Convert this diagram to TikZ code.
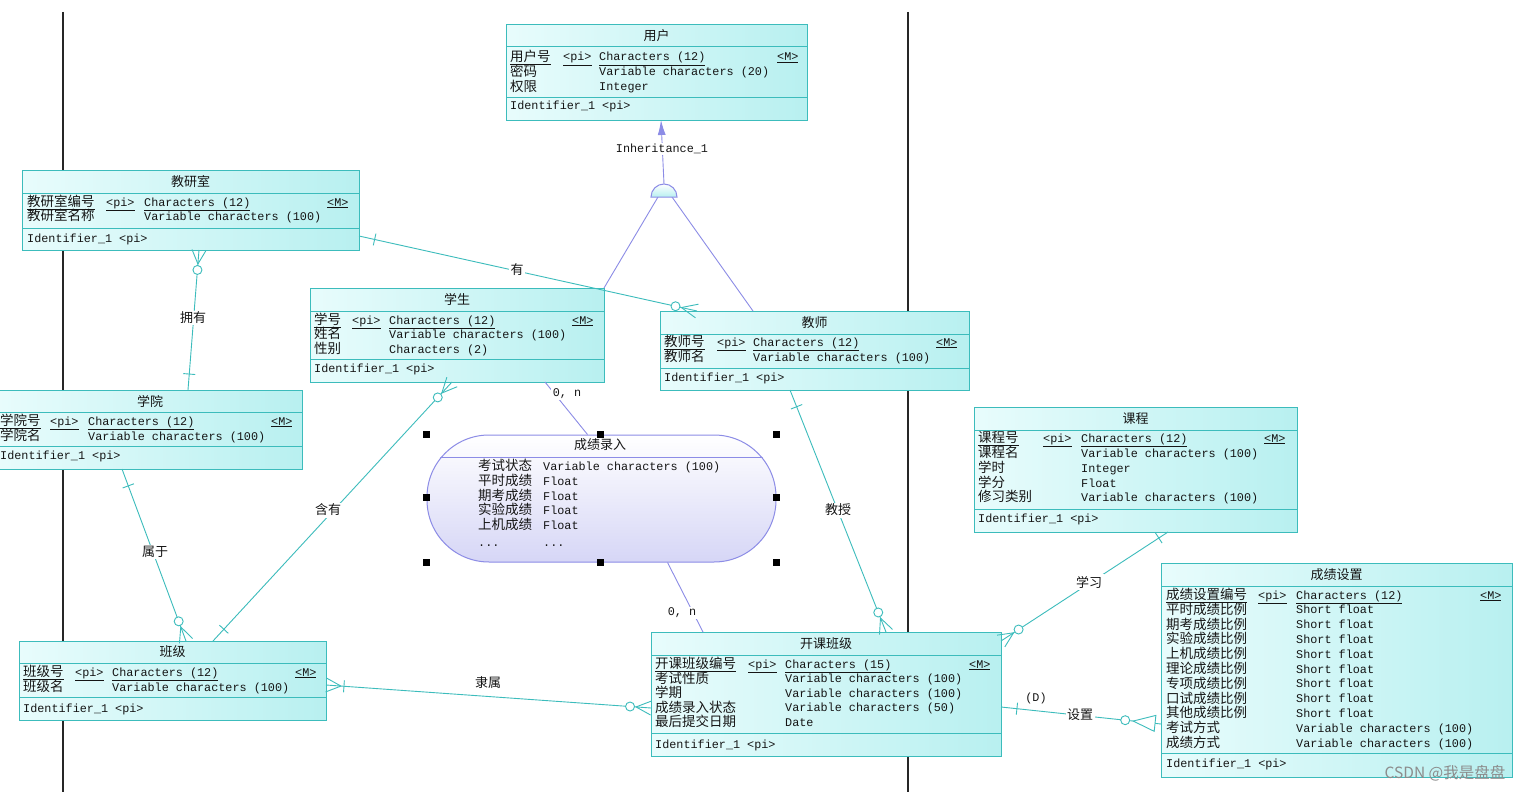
\documentclass[tikz,border=0pt]{standalone}
\usepackage{fontspec}
\setmonofont{Liberation Mono}
\newfontfamily\cjk{Noto Sans CJK SC}
\usetikzlibrary{calc,arrows.meta}
\definecolor{ebd}{HTML}{3CBCBC}
\definecolor{efl}{HTML}{B8F0F0}
\definecolor{efl2}{HTML}{E8FCFC}
\definecolor{pur}{HTML}{8C8CE6}
\definecolor{pfl}{HTML}{D6D6F6}
\definecolor{txt}{HTML}{151515}
\newcounter{nn}
\newcommand\setcols[4]{\def\cn{#1}\def\cp{#2}\def\ct{#3}\def\cm{#4}}
\newcommand\tx[4]{\stepcounter{nn}\node[#1] (t\arabic{nn}) at (#2,#3) {#4};}
\newcommand\keyrow[3]{%
  \tx{cf}{\cn}{#1+4.5}{\underline{#2}}%
  \tx{lf}{\cp}{#1+4}{\underline{<pi>}}%
  \tx{lf}{\ct}{#1+4}{\underline{#3}}%
  \tx{lf}{\cm}{#1+4}{\underline{<M>}}}
\newcommand\arow[3]{\tx{cf}{\cn}{#1+4.5}{#2}\tx{lf}{\ct}{#1+4}{#3}}
\newcommand\idrow[1]{\tx{lf}{\cn}{#1+4}{Identifier\_1 <pi>}}
% id x y w ytitle yattr ybottom title
\newcommand\ent[8]{%
  \node[ebox, minimum width=#4, minimum height={#7-#3}] (#1) at (#2,#3) {};
  \draw[sep] (#2,#5) -- ({#2+#4},#5);
  \draw[sep] (#2,#6) -- ({#2+#4},#6);
  \tx{ttl}{{#2+#4/2}}{{(#3+#5)/2}}{#8}}
\newcommand\erbar[3]{%
  \coordinate (tmpq) at ($(#1)!#3!(#2)$);
  \draw[rel] ($(tmpq)!6pt!90:(#2)$) -- ($(tmpq)!6pt!-90:(#2)$);}
\newcommand\ercrow[3]{%
  \draw[rel] ($(#1)!#3!(#2)$) -- ($(#1)!7pt!90:(#2)$)
             ($(#1)!#3!(#2)$) -- ($(#1)!7pt!-90:(#2)$);}
\newcommand\ercirc[3]{%
  \draw[rel, fill=white] ($(#1)!#3!(#2)$) circle[radius=4.5pt];}
\tikzset{
  ebox/.style={draw=ebd, line width=1pt, left color=efl2, right color=efl, anchor=north west, inner sep=0, outer sep=0},
  sep/.style={draw=ebd, line width=1pt},
  ttl/.style={font=\cjk\fontsize{13}{14}\selectfont, text=txt, inner sep=0},
  lf/.style={font=\ttfamily\fontsize{11.8}{12}\selectfont, text=txt, anchor=base west, inner sep=0},
  cf/.style={font=\cjk\fontsize{13.5}{14}\selectfont, text=txt, anchor=base west, inner sep=0},
  rel/.style={draw=ebd, line width=0.9pt},
  prel/.style={draw=pur, line width=0.9pt},
  rlab/.style={font=\cjk\fontsize{13}{14}\selectfont, fill=white, inner sep=1.5pt, text=txt},
  tlab/.style={font=\ttfamily\fontsize{11.8}{12}\selectfont, fill=white, inner sep=1.5pt, text=txt},
  handle/.style={fill=black, minimum size=7pt, inner sep=0},
  vline/.style={draw=black!85, line width=1.4pt},
}
\begin{document}
\begin{tikzpicture}[x=1pt,y=-1pt]
\useasboundingbox[fill=white] (0,0) rectangle (1529,792);
% vertical lines
\draw[vline] (63,12) -- (63,792);
\draw[vline] (908,12) -- (908,792);

% ---------- entities ----------
\ent{yh}{506}{25}{301}{47}{97}{120}{用户}
\setcols{510}{563}{599}{777}
\keyrow{57}{用户号}{Characters (12)}
\arow{72}{密码}{Variable characters (20)}
\arow{87}{权限}{Integer}
\idrow{106}

\ent{jys}{22}{170}{337}{193}{228}{250}{教研室}
\setcols{27}{106}{144}{327}
\keyrow{202}{教研室编号}{Characters (12)}
\arow{216}{教研室名称}{Variable characters (100)}
\idrow{238}

\ent{xs}{310}{288}{294}{311}{359}{382}{学生}
\setcols{314}{352}{389}{572}
\keyrow{320}{学号}{Characters (12)}
\arow{334}{姓名}{Variable characters (100)}
\arow{349}{性别}{Characters (2)}
\idrow{368}

\ent{js}{660}{311}{309}{334}{368}{390}{教师}
\setcols{664}{717}{753}{936}
\keyrow{342}{教师号}{Characters (12)}
\arow{357}{教师名}{Variable characters (100)}
\idrow{377}

\ent{xy}{-2}{390}{304}{412}{446}{469}{学院}
\setcols{0}{50}{88}{271}
\keyrow{421}{学院号}{Characters (12)}
\arow{436}{学院名}{Variable characters (100)}
\idrow{455}

\ent{kc}{974}{407}{323}{430}{509}{532}{课程}
\setcols{978}{1043}{1081}{1264}
\keyrow{438}{课程号}{Characters (12)}
\arow{453}{课程名}{Variable characters (100)}
\arow{468}{学时}{Integer}
\arow{483}{学分}{Float}
\arow{497}{修习类别}{Variable characters (100)}
\idrow{518}

\ent{cs}{1161}{563}{351}{586}{753}{777}{成绩设置}
\setcols{1166}{1258}{1296}{1480}
\keyrow{595}{成绩设置编号}{Characters (12)}
\arow{609.8}{平时成绩比例}{Short float}
\arow{624.6}{期考成绩比例}{Short float}
\arow{639.4}{实验成绩比例}{Short float}
\arow{654.2}{上机成绩比例}{Short float}
\arow{669}{理论成绩比例}{Short float}
\arow{683.8}{专项成绩比例}{Short float}
\arow{698.6}{口试成绩比例}{Short float}
\arow{713.4}{其他成绩比例}{Short float}
\arow{728.2}{考试方式}{Variable characters (100)}
\arow{743}{成绩方式}{Variable characters (100)}
\idrow{763}

\ent{bj}{19}{641}{307}{663}{697}{720}{班级}
\setcols{23}{75}{112}{295}
\keyrow{672}{班级号}{Characters (12)}
\arow{687}{班级名}{Variable characters (100)}
\idrow{708}

\ent{kb}{651}{632}{350}{655}{733}{756}{开课班级}
\setcols{655}{748}{785}{969}
\keyrow{664}{开课班级编号}{Characters (15)}
\arow{678.6}{考试性质}{Variable characters (100)}
\arow{693.2}{学期}{Variable characters (100)}
\arow{707.8}{成绩录入状态}{Variable characters (50)}
\arow{722.4}{最后提交日期}{Date}
\idrow{744}

% ---------- association 成绩录入 ----------
\node[draw=pur, line width=1pt, rounded corners=62pt, top color=white, bottom color=pfl,
      minimum width=349, minimum height=127, inner sep=0] (lr) at (601.5,498.5) {};
\begin{scope}
  \clip[rounded corners=62pt] (lr.north west) rectangle (lr.south east);
  \draw[prel] ($(lr.north west)+(0,23)$) -- ($(lr.north east)+(0,23)$);
\end{scope}
\tx{ttl}{600}{445}{成绩录入}
\setcols{478}{0}{543}{0}
\arow{466}{考试状态}{Variable characters (100)}
\arow{481}{平时成绩}{Float}
\arow{496}{期考成绩}{Float}
\arow{510}{实验成绩}{Float}
\arow{525}{上机成绩}{Float}
\tx{lf}{478}{546}{...}
\tx{lf}{543}{546}{...}
\foreach \hx/\hy [count=\i] in {426/434,600/434,776/434,426/497,776/497,426/562,600/562,776/562}
  \node[handle] (h\i) at (\hx,\hy) {};

\coordinate (p1a) at ($(xs.south west)+(235,0)$);
\coordinate (p1b) at ($(lr.north west)+(161,0)$);
\draw[prel] (p1a) -- (p1b);
\node[tlab] (l0n1) at (567,394) {0, n};
\coordinate (p2a) at ($(lr.south west)+(241,0)$);
\coordinate (p2b) at ($(kb.north west)+(52,0)$);
\draw[prel] (p2a) -- (p2b);
\node[tlab] (l0n2) at (682,613) {0, n};

% ---------- inheritance ----------
\coordinate (inh) at (664,197);
\coordinate (inhtop) at (664,184);
\coordinate (yhb) at ($(yh.south west)+(155,0)$);
\draw[prel, -{Latex[length=15pt,width=8pt]}] (inhtop) -- (yhb);
\node[tlab] (linh) at (662,149) {Inheritance\_1};
\draw[prel] ($(inh)+(-6,0)$) -- (xs.north east);
\draw[prel] ($(inh)+(8,0)$) -- ($(js.north west)+(93,0)$);
\draw[draw=pur, line width=1pt, top color=white, bottom color=efl]
  ($(inh)+(-13,0)$) arc[start angle=180, end angle=0, radius=13pt] -- cycle;

% ---------- relationships ----------
% 有
\coordinate (c1a) at ($(jys.south east)+(0,-14)$);
\coordinate (c1b) at ($(js.north west)+(37,0)$);
\draw[rel] (c1a) -- (c1b);
\erbar{c1a}{c1b}{16pt}
\ercrow{c1b}{c1a}{16pt}
\ercirc{c1b}{c1a}{22pt}
\node[rlab] (l1) at (517,270) {有};
% 拥有
\coordinate (c2a) at ($(jys.south west)+(177,0)$);
\coordinate (c2b) at ($(xy.north west)+(190,0)$);
\draw[rel] (c2a) -- (c2b);
\ercrow{c2a}{c2b}{14pt}
\ercirc{c2a}{c2b}{20pt}
\erbar{c2b}{c2a}{16pt}
\node[rlab] (l2) at (193,318) {拥有};
% 属于
\coordinate (c3a) at ($(xy.south west)+(124,0)$);
\coordinate (c3b) at ($(bj.north west)+(167,0)$);
\draw[rel] (c3a) -- (c3b);
\erbar{c3a}{c3b}{18pt}
\ercrow{c3b}{c3a}{15pt}
\ercirc{c3b}{c3a}{21pt}
\node[rlab] (l3) at (155,552) {属于};
% 含有
\coordinate (c4a) at ($(xs.south west)+(142,0)$);
\coordinate (c4b) at ($(bj.north west)+(194,0)$);
\draw[rel] (c4a) -- (c4b);
\ercrow{c4a}{c4b}{15pt}
\ercirc{c4a}{c4b}{21pt}
\erbar{c4b}{c4a}{16pt}
\node[rlab] (l4) at (328,510) {含有};
% 隶属
\coordinate (c5a) at ($(bj.north east)+(0,44)$);
\coordinate (c5b) at ($(kb.north west)+(0,76)$);
\draw[rel] (c5a) -- (c5b);
\ercrow{c5a}{c5b}{15pt}
\erbar{c5a}{c5b}{18pt}
\ercrow{c5b}{c5a}{15pt}
\ercirc{c5b}{c5a}{21pt}
\node[rlab] (l5) at (488,683) {隶属};
% 教授
\coordinate (c6a) at ($(js.south west)+(130,0)$);
\coordinate (c6b) at ($(kb.north west)+(235,0)$);
\draw[rel] (c6a) -- (c6b);
\erbar{c6a}{c6b}{18pt}
\ercrow{c6b}{c6a}{15pt}
\ercirc{c6b}{c6a}{21pt}
\node[rlab] (l6) at (838,510) {教授};
% 学习
\coordinate (c7a) at ($(kc.south west)+(194,0)$);
\coordinate (c7b) at ($(kb.north east)+(0,9)$);
\draw[rel] (c7a) -- (c7b);
\erbar{c7a}{c7b}{11pt}
\ercrow{c7b}{c7a}{15pt}
\ercirc{c7b}{c7a}{21pt}
\node[rlab] (l7) at (1089,582) {学习};
% 设置
\coordinate (c8a) at ($(kb.north east)+(0,75)$);
\coordinate (c8b) at ($(cs.north west)+(0,161)$);
\draw[rel] (c8a) -- (c8b);
\erbar{c8a}{c8b}{16pt}
\coordinate (tri1) at ($(c8b)!6pt!(c8a)$);
\coordinate (tri2) at ($(c8b)!28pt!(c8a)$);
\draw[rel, fill=white] ($(tri1)!8pt!90:(c8a)$) -- (tri2) -- ($(tri1)!8pt!-90:(c8a)$) -- cycle;
\ercirc{c8b}{c8a}{36pt}
\node[rlab] (l8) at (1080,715) {设置};
\node[font=\ttfamily\fontsize{11.8}{12}\selectfont, text=txt, inner sep=0] (l8d) at (1036,698) {(D)};

% watermark
\node[font=\cjk\fontsize{15.5}{16}\selectfont, text=black!45, inner sep=0] (wm) at (1445,773) {CSDN @我是盘盘};
\end{tikzpicture}
\end{document}
